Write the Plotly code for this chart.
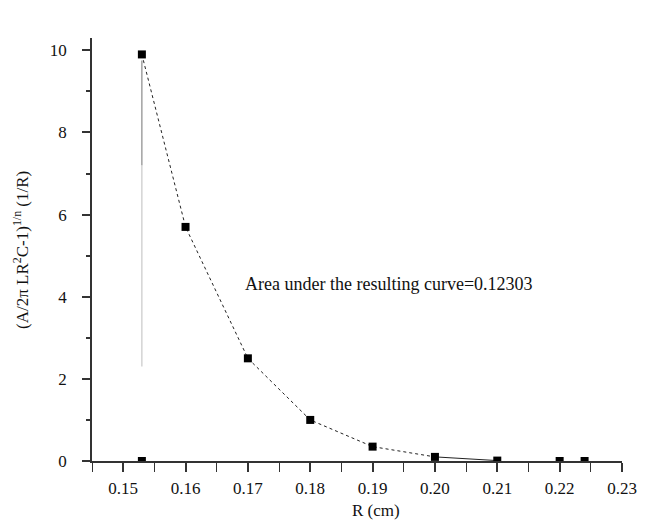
import plotly.graph_objects as go

# data
R = [0.153, 0.16, 0.17, 0.18, 0.19, 0.20, 0.21]
V = [9.9, 5.7, 2.5, 1.0, 0.35, 0.1, 0.01]
R_zero = [0.153, 0.22, 0.224]
V_zero = [0.0, 0.0, 0.0]
vline_x = [0.153, 0.153]
vline_dark = [7.2, 9.75]
vline_light = [2.3, 7.2]
x_ticks = [0.15, 0.16, 0.17, 0.18, 0.19, 0.20, 0.21, 0.22, 0.23]
x_labels = ["0.15", "0.16", "0.17", "0.18", "0.19", "0.20", "0.21", "0.22", "0.23"]
y_ticks = [0, 2, 4, 6, 8, 10]
area_text = "Area under the resulting curve=0.12303"

FONT = "Liberation Serif, Times New Roman, serif"

fig = go.Figure()
fig.add_trace(go.Scatter(x=vline_x, y=vline_light, mode="lines",
                         line=dict(color="#c8c8c8", width=1.2), showlegend=False))
fig.add_trace(go.Scatter(x=vline_x, y=vline_dark, mode="lines",
                         line=dict(color="#8a8a8a", width=1.2), showlegend=False))
fig.add_trace(go.Scatter(x=R[:-1], y=V[:-1], mode="lines",
                         line=dict(color="#222", width=1, dash="dot"), showlegend=False))
fig.add_trace(go.Scatter(x=R[-2:], y=V[-2:], mode="lines",
                         line=dict(color="#222", width=1), showlegend=False))
fig.add_trace(go.Scatter(x=R, y=V, mode="markers",
                         marker=dict(symbol="square", size=8, color="black"), showlegend=False))
fig.add_trace(go.Scatter(x=R_zero, y=V_zero, mode="markers",
                         marker=dict(symbol="square", size=8, color="black"), showlegend=False))

fig.add_annotation(x=0.1692, y=4.31, xref="x", yref="y", text=area_text,
                   showarrow=False, xanchor="left", yanchor="middle",
                   font=dict(family=FONT, size=18, color="#111"))
fig.add_annotation(x=0.535, y=-0.118, xref="paper", yref="paper", text="R (cm)",
                   showarrow=False, xanchor="center", yanchor="middle",
                   font=dict(family=FONT, size=17, color="#111"))

fig.update_layout(
    width=649, height=520,
    margin=dict(l=92, r=16, t=38, b=59),
    paper_bgcolor="white", plot_bgcolor="white",
    font=dict(family=FONT, size=17, color="#111"),
    xaxis=dict(range=[0.145, 0.23], tickvals=x_ticks, ticktext=x_labels,
               showgrid=False, zeroline=False, showline=True, linecolor="#333", linewidth=1.5,
               ticks="outside", ticklen=9, tickwidth=1.5, tickcolor="#333",
               minor=dict(dtick=0.005, tick0=0.145, ticks="outside", ticklen=9, tickwidth=1.2, tickcolor="#333"),
               ticklabelstandoff=2,
               tickfont=dict(family=FONT, size=17, color="#111")),
    yaxis=dict(range=[0, 10.3], tickvals=y_ticks,
               showgrid=False, zeroline=False, showline=True, linecolor="#333", linewidth=1.5,
               ticks="outside", ticklen=8, tickwidth=1.5, tickcolor="#333",
               minor=dict(dtick=1, ticks="outside", ticklen=4, tickwidth=1.5, tickcolor="#333"),
               ticklabelstandoff=12,
               tickfont=dict(family=FONT, size=17, color="#111")),
)
fig.add_annotation(x=-0.135, y=0.5, xref="paper", yref="paper",
                   text="(A/2π LR<sup>2</sup>C-1)<sup>1/n</sup> (1/R)", textangle=-90,
                   showarrow=False, xanchor="center", yanchor="middle",
                   font=dict(family=FONT, size=17, color="#111"))

fig.write_html("out.html")
